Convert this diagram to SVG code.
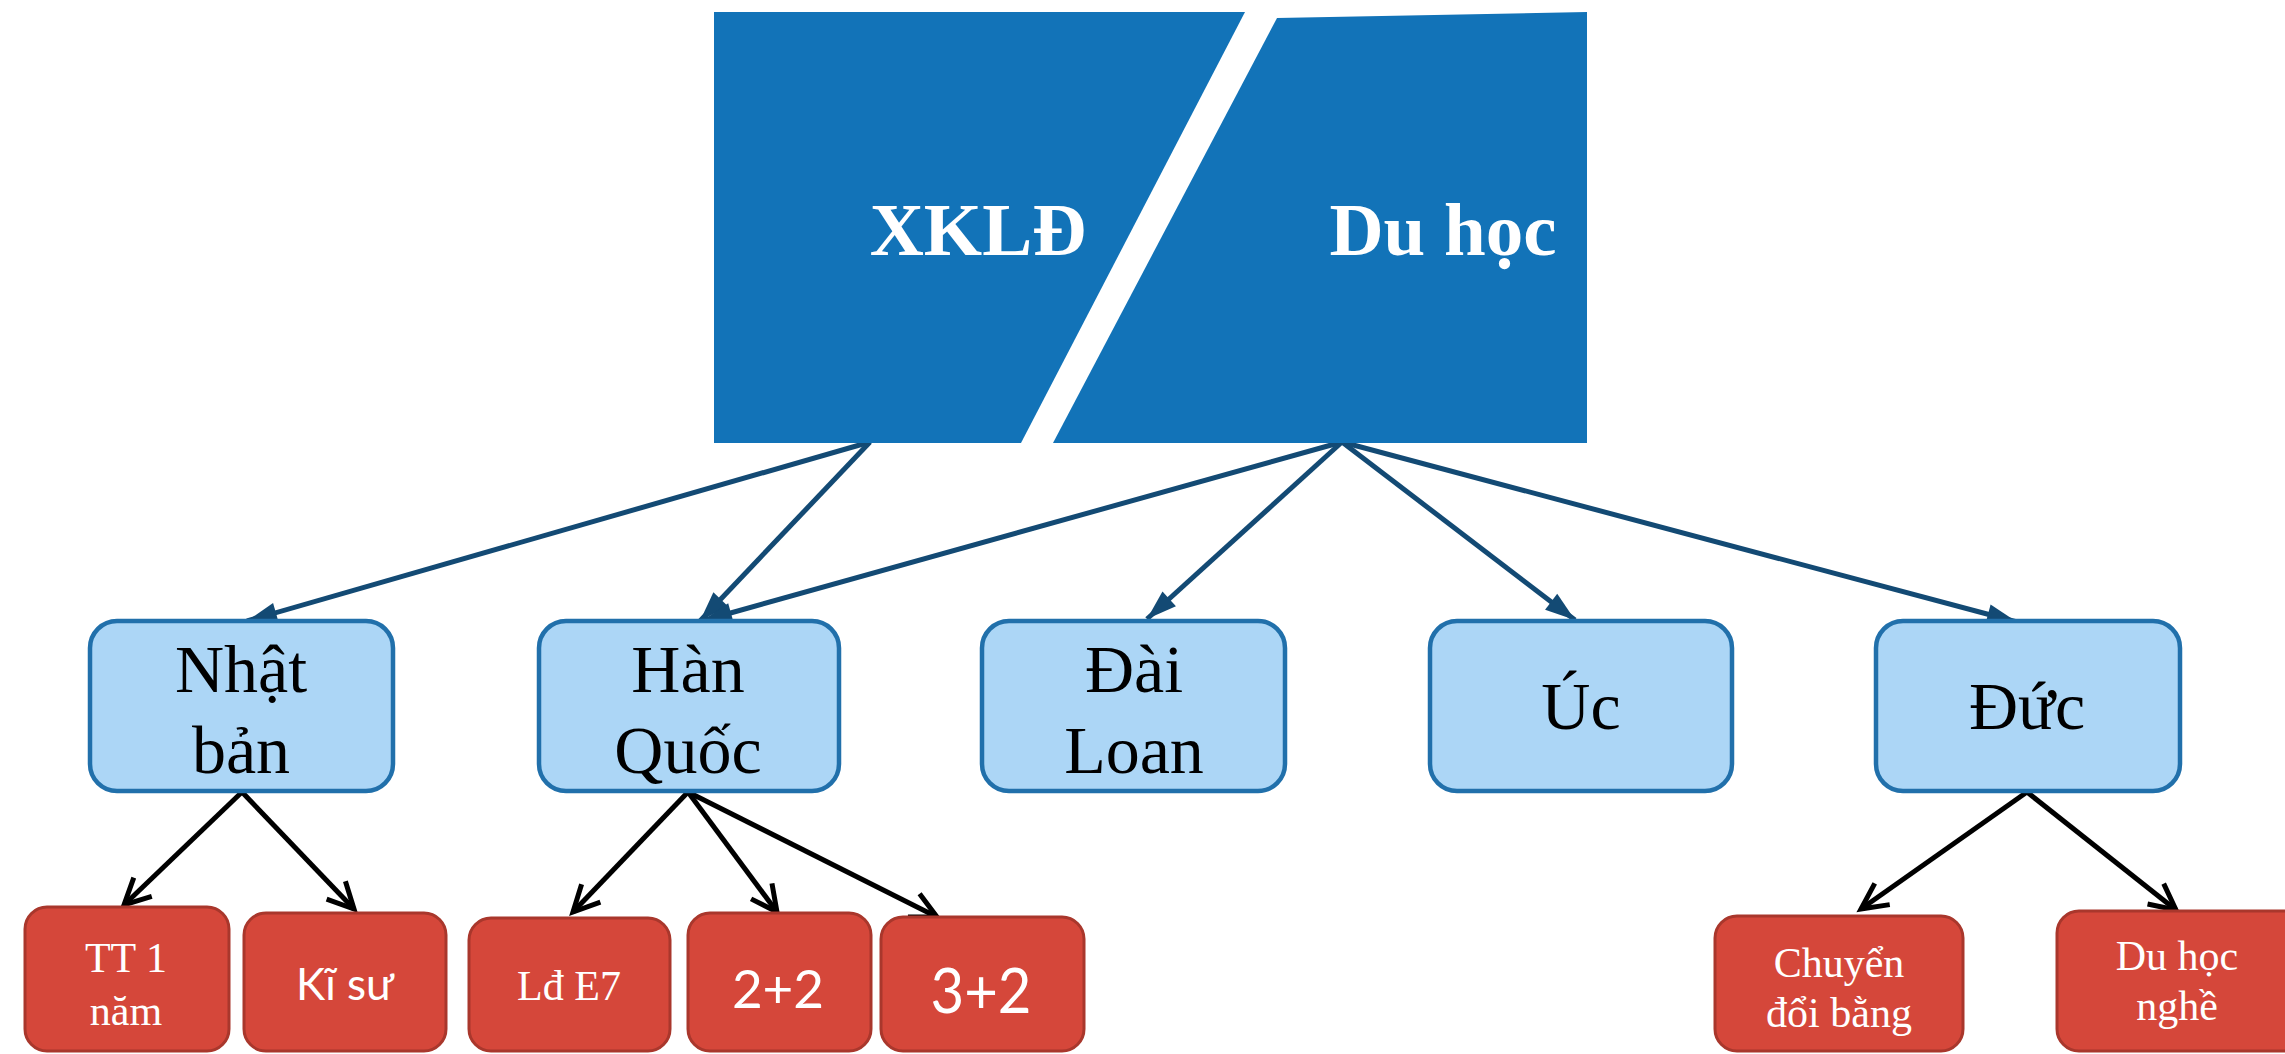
<svg xmlns="http://www.w3.org/2000/svg" width="2285" height="1054" viewBox="0 0 2285 1054">
<style>
.top{fill:#1273b8}
.mid rect{fill:#acd6f6;stroke:#2170ab;stroke-width:4.5}
.leaf rect{fill:#d5473a;stroke:#a9372c;stroke-width:3}
.tt{font-family:"Liberation Serif",serif;font-weight:bold;font-size:75px;fill:#fff;text-anchor:middle}
.mt{font-family:"Liberation Serif",serif;font-size:68px;fill:#000;text-anchor:middle}
.lt{font-family:"Liberation Serif",serif;font-size:42px;fill:#fff;text-anchor:middle}
.ls{font-family:Lato,"Liberation Sans",sans-serif;fill:#fff;text-anchor:middle}
.cb{stroke:#134a74;stroke-width:5;fill:none;marker-end:url(#ab)}
.ck{stroke:#000;stroke-width:5;fill:none;marker-end:url(#ak)}
</style>
<defs>
<marker id="ab" markerUnits="userSpaceOnUse" markerWidth="34" markerHeight="22" refX="30" refY="10" orient="auto" overflow="visible">
<path d="M0,0 L30,10 L0,20 Z" fill="#134a74"/>
</marker>
<marker id="ak" markerUnits="userSpaceOnUse" markerWidth="34" markerHeight="34" refX="27" refY="14" orient="auto" overflow="visible">
<path d="M1,1 L27,14 L1,27" fill="none" stroke="#000" stroke-width="5" stroke-linejoin="miter"/>
</marker>
</defs>
<rect width="2285" height="1054" fill="#fff"/>

<g id="connectors">
<line class="cb" x1="870" y1="442" x2="247" y2="621"/>
<line class="cb" x1="870" y1="442" x2="700" y2="621"/>
<line class="cb" x1="1342" y1="442" x2="702" y2="621"/>
<line class="cb" x1="1342" y1="442" x2="1147" y2="619"/>
<line class="cb" x1="1342" y1="442" x2="1575" y2="620"/>
<line class="cb" x1="1342" y1="442" x2="2017" y2="622"/>
<line class="ck" x1="242" y1="792" x2="124" y2="905"/>
<line class="ck" x1="242" y1="792" x2="354" y2="909"/>
<line class="ck" x1="688" y1="792" x2="573" y2="912"/>
<line class="ck" x1="688" y1="792" x2="777" y2="912"/>
<line class="ck" x1="688" y1="792" x2="937" y2="917"/>
<line class="ck" x1="2027" y1="792" x2="1861" y2="909"/>
<line class="ck" x1="2027" y1="792" x2="2176" y2="910"/>
</g>

<g id="xkld">
<polygon class="top" points="714,12 1245,12 1021,443 714,443"/>
<text class="tt" x="978" y="255">XKLĐ</text>
</g>
<g id="duhoc">
<polygon class="top" points="1277,18 1587,12 1587,443 1053,443"/>
<text class="tt" x="1443" y="255">Du học</text>
</g>

<g id="nhatban" class="mid">
<rect x="90" y="621" width="303" height="170" rx="27"/>
<text class="mt" x="241" y="692">Nhật</text>
<text class="mt" x="241" y="773">bản</text>
</g>
<g id="hanquoc" class="mid">
<rect x="539" y="621" width="300" height="170" rx="27"/>
<text class="mt" x="688" y="692">Hàn</text>
<text class="mt" x="688" y="773">Quốc</text>
</g>
<g id="dailoan" class="mid">
<rect x="982" y="621" width="303" height="170" rx="27"/>
<text class="mt" x="1134" y="692">Đài</text>
<text class="mt" x="1134" y="773">Loan</text>
</g>
<g id="uc" class="mid">
<rect x="1430" y="621" width="302" height="170" rx="27"/>
<text class="mt" x="1581" y="729">Úc</text>
</g>
<g id="duc" class="mid">
<rect x="1876" y="621" width="304" height="170" rx="27"/>
<text class="mt" x="2027" y="729">Đức</text>
</g>

<g id="tt1nam" class="leaf">
<rect x="25" y="907" width="204" height="144" rx="22"/>
<text class="lt" x="126" y="972" font-size="44">TT 1</text>
<text class="lt" x="126" y="1025" font-size="44">năm</text>
</g>
<g id="kisu" class="leaf">
<rect x="244" y="913" width="202" height="138" rx="22"/>
<text class="ls" x="345" y="1000" font-size="44">Kĩ sư</text>
</g>
<g id="lde7" class="leaf">
<rect x="469" y="918" width="201" height="133" rx="22"/>
<text class="lt" x="569" y="1000">Lđ E7</text>
</g>
<g id="hai2" class="leaf">
<rect x="688" y="913" width="183" height="138" rx="22"/>
<text class="ls" x="778" y="1008" font-size="53">2+2</text>
</g>
<g id="ba2" class="leaf">
<rect x="881" y="917" width="203" height="134" rx="22"/>
<text class="ls" x="981" y="1013" font-size="62" textLength="101" lengthAdjust="spacingAndGlyphs">3+2</text>
</g>
<g id="chuyendoi" class="leaf">
<rect x="1715" y="916" width="248" height="135" rx="22"/>
<text class="lt" x="1839" y="977" font-size="40">Chuyển</text>
<text class="lt" x="1839" y="1027" font-size="40">đổi bằng</text>
</g>
<g id="duhocnghe" class="leaf">
<rect x="2057" y="911" width="250" height="140" rx="22"/>
<text class="lt" x="2177" y="970">Du học</text>
<text class="lt" x="2177" y="1020">nghề</text>
</g>
</svg>
